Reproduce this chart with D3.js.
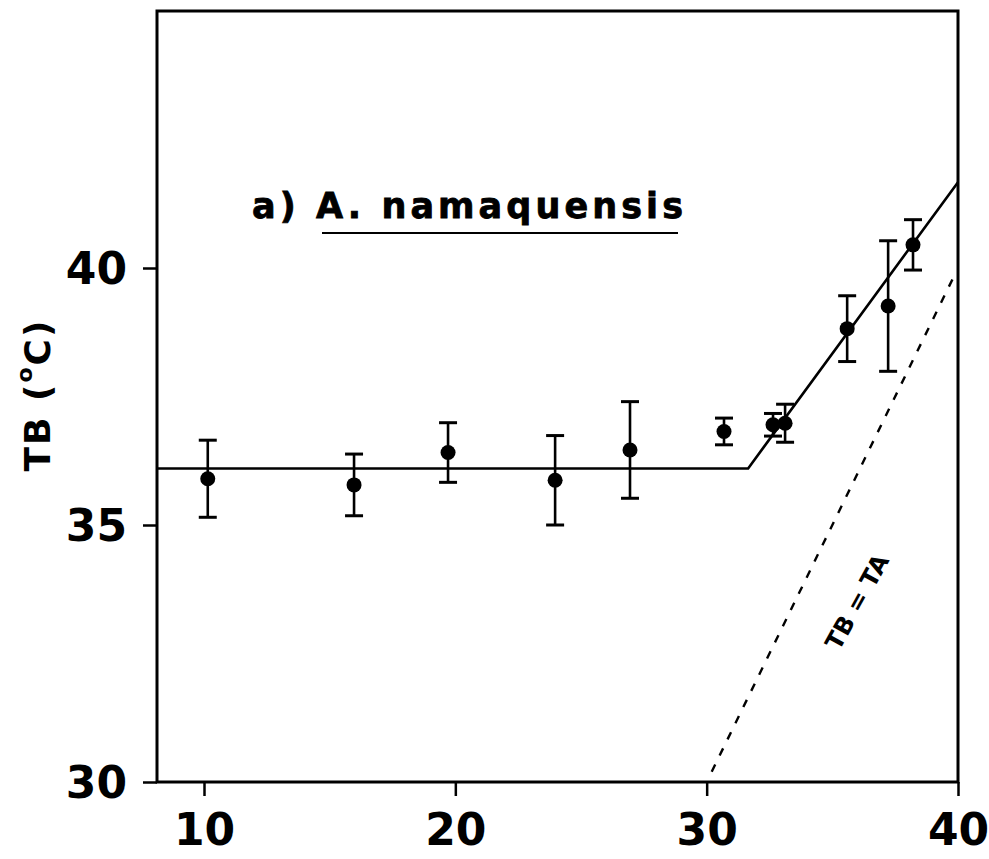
<!DOCTYPE html>
<html>
<head>
<meta charset="utf-8">
<script src="https://cdn.jsdelivr.net/npm/d3@7"></script>
<style>
  html, body { margin: 0; padding: 0; background: #fff; }
  svg { display: block; }
  text { font-family: "DejaVu Sans", "Liberation Sans", Arial, sans-serif; font-weight: bold; fill: #000; }
</style>
</head>
<body>
<svg id="chart" width="989" height="859"></svg>
<script>
// Ambient temperature (TA, °C) and body temperature (TB, °C) with ± error
const ambientTemp = [10.15, 15.97, 19.71, 23.97, 26.95, 30.69, 32.64, 33.12, 35.59, 37.22, 38.21];
const bodyTemp    = [35.90, 35.78, 36.41, 35.87, 36.46, 36.82, 36.95, 36.98, 38.82, 39.26, 40.45];
const bodyTempErr = [0.75, 0.60, 0.58, 0.87, 0.94, 0.26, 0.22, 0.37, 0.64, 1.27, 0.49];

// Broken-stick fit: flat below the inflection point, rising above it
const fitTA = [8.13, 31.65, 40];
const fitTB = [36.1, 36.1, 41.67];

// Line of equality TB = TA
const identityTA = [30.2, 39.9];

const xTicks = [10, 20, 30, 40];
const yTicks = [30, 35, 40];

const title = "a) A. namaquensis";
const yLabel = "TB (";
const identityLabel = "TB = TA";

const FONT = "DejaVu Sans, Liberation Sans, Arial, sans-serif";
const svg = d3.select("#chart");
const plotLeft = 157, plotRight = 958, plotTop = 11, plotBottom = 782;

const x = d3.scaleLinear().domain([8.13, 40]).range([plotLeft, plotRight]);
const y = d3.scaleLinear().domain([30, 45]).range([plotBottom, plotTop]);

// Frame
svg.append("rect")
  .attr("x", plotLeft).attr("y", plotTop)
  .attr("width", plotRight - plotLeft).attr("height", plotBottom - plotTop)
  .attr("fill", "none").attr("stroke", "#000").attr("stroke-width", 3);

// X axis
const xAxis = svg.append("g")
  .attr("transform", `translate(0,${plotBottom})`)
  .call(d3.axisBottom(x).tickValues(xTicks).tickSize(14).tickPadding(17).tickFormat(d3.format("d")));
xAxis.select(".domain").remove();
xAxis.selectAll(".tick line").attr("stroke", "#000").attr("stroke-width", 2.5);
xAxis.selectAll(".tick text")
  .attr("font-size", 44).attr("font-family", FONT)
  .attr("font-weight", "bold").attr("dy", "0.72em");

// Y axis
const yAxis = svg.append("g")
  .attr("transform", `translate(${plotLeft},0)`)
  .call(d3.axisLeft(y).tickValues(yTicks).tickSize(14).tickPadding(16).tickFormat(d3.format("d")));
yAxis.select(".domain").remove();
yAxis.selectAll(".tick line").attr("stroke", "#000").attr("stroke-width", 2.5);
yAxis.selectAll(".tick text")
  .attr("font-size", 44).attr("font-family", FONT)
  .attr("font-weight", "bold").attr("dy", "0.36em");

// Y axis title
const yl = svg.append("text")
  .attr("transform", "translate(50,395) rotate(-90)")
  .attr("text-anchor", "middle")
  .attr("font-size", 36)
  .attr("letter-spacing", 2);
yl.append("tspan").text(yLabel);
yl.append("tspan").attr("font-size", 22).attr("dy", -18).text("o");
yl.append("tspan").attr("dy", 18).text("C)");

// Fit line
const line = d3.line().x(d => x(d[0])).y(d => y(d[1]));
svg.append("path")
  .datum(d3.zip(fitTA, fitTB))
  .attr("d", line)
  .attr("fill", "none").attr("stroke", "#000").attr("stroke-width", 2.6);

// TB = TA dashed line
svg.append("path")
  .datum(identityTA.map(v => [v, v]))
  .attr("d", line)
  .attr("fill", "none").attr("stroke", "#000").attr("stroke-width", 2.4)
  .attr("stroke-dasharray", "8,10");

// Error bars
const pts = ambientTemp.map((t, i) => ({ t, b: bodyTemp[i], e: bodyTempErr[i] }));
const cap = 9;
const eb = svg.append("g").attr("stroke", "#000").attr("stroke-width", 2.6);
pts.forEach(p => {
  const cx = x(p.t), y1 = y(p.b + p.e), y0 = y(p.b - p.e);
  eb.append("line").attr("x1", cx).attr("x2", cx).attr("y1", y1).attr("y2", y0);
  eb.append("line").attr("x1", cx - cap).attr("x2", cx + cap).attr("y1", y1).attr("y2", y1).attr("stroke-width", 3);
  eb.append("line").attr("x1", cx - cap).attr("x2", cx + cap).attr("y1", y0).attr("y2", y0).attr("stroke-width", 3);
});

// Means
svg.append("g").selectAll("circle")
  .data(pts).join("circle")
  .attr("cx", d => x(d.t)).attr("cy", d => y(d.b))
  .attr("r", 7.5).attr("fill", "#000");

// Panel title with underline
svg.append("text")
  .attr("x", 252).attr("y", 218)
  .attr("font-size", 35)
  .attr("stroke", "#000").attr("stroke-width", 0.8)
  .attr("textLength", 431).attr("lengthAdjust", "spacing")
  .text(title);
svg.append("line")
  .attr("x1", 322).attr("x2", 678).attr("y1", 233).attr("y2", 233)
  .attr("stroke", "#000").attr("stroke-width", 2.2);

// Label on the line of equality
svg.append("text")
  .attr("transform", "translate(857,602) rotate(-61)")
  .attr("text-anchor", "middle")
  .attr("dy", "0.35em")
  .attr("font-size", 24)
  .text(identityLabel);
</script>
</body>
</html>
